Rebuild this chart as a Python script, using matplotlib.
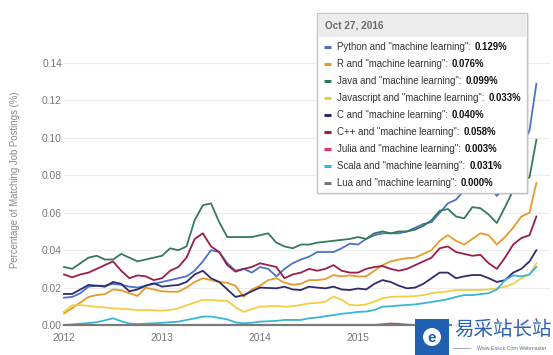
import numpy as np
import matplotlib
matplotlib.use('Agg')
import matplotlib.pyplot as plt
from matplotlib.patches import Rectangle, Ellipse
from matplotlib.lines import Line2D
from matplotlib.ticker import FormatStrFormatter

plt.rcParams['font.family'] = ['Liberation Sans', 'DejaVu Sans']

# Dates: monthly samples Jan 2012 .. Sep 2016, then Oct 27, 2016 (decimal years)
dates = np.append(2012 + np.arange(58) / 12.0, 2016.82)

python = [0.0146, 0.015, 0.017, 0.0205, 0.021, 0.021, 0.022, 0.0215, 0.0205, 0.020,
          0.021, 0.022, 0.023, 0.024, 0.025, 0.026, 0.029, 0.034, 0.040, 0.039,
          0.033, 0.029, 0.030, 0.028, 0.031, 0.030, 0.026, 0.030, 0.033, 0.035,
          0.0365, 0.039, 0.039, 0.039, 0.041, 0.0435, 0.043, 0.046, 0.048, 0.049,
          0.049, 0.049, 0.050, 0.052, 0.054, 0.055, 0.060, 0.065, 0.067, 0.072,
          0.076, 0.078, 0.075, 0.069, 0.074, 0.085, 0.095, 0.104,
          0.129]
r_lang = [0.0062, 0.009, 0.012, 0.015, 0.016, 0.0165, 0.019, 0.0185, 0.017, 0.0155,
          0.020, 0.019, 0.018, 0.0178, 0.0178, 0.020, 0.023, 0.025, 0.024, 0.023,
          0.0225, 0.021, 0.015, 0.019, 0.021, 0.024, 0.025, 0.0226, 0.0215, 0.022,
          0.024, 0.024, 0.0245, 0.0267, 0.026, 0.0265, 0.026, 0.026, 0.029, 0.032,
          0.034, 0.035, 0.0357, 0.036, 0.038, 0.040, 0.045, 0.048, 0.045, 0.043,
          0.046, 0.049, 0.048, 0.043, 0.047, 0.052, 0.058, 0.060,
          0.076]
java = [0.031, 0.030, 0.033, 0.036, 0.037, 0.035, 0.035, 0.038, 0.036, 0.034,
        0.035, 0.036, 0.037, 0.041, 0.040, 0.042, 0.056, 0.064, 0.065, 0.055,
        0.047, 0.047, 0.047, 0.047, 0.048, 0.049, 0.044, 0.042, 0.041, 0.043,
        0.043, 0.044, 0.0445, 0.045, 0.0455, 0.046, 0.047, 0.046, 0.049, 0.050,
        0.049, 0.050, 0.050, 0.051, 0.053, 0.056, 0.061, 0.062, 0.058, 0.057,
        0.063, 0.0624, 0.059, 0.0545, 0.063, 0.072, 0.077, 0.079,
        0.099]
javascript = [0.0071, 0.0105, 0.0107, 0.0102, 0.0097, 0.0094, 0.0089, 0.0087, 0.0084, 0.008,
              0.008, 0.0079, 0.0077, 0.008, 0.0089, 0.0105, 0.012, 0.0134, 0.0134, 0.013,
              0.013, 0.0094, 0.007, 0.0085, 0.0098, 0.010, 0.0102, 0.0098, 0.010, 0.0107,
              0.0116, 0.0118, 0.0125, 0.0152, 0.0135, 0.0107, 0.0105, 0.011, 0.0125, 0.0143,
              0.015, 0.0152, 0.0152, 0.0155, 0.016, 0.017, 0.0175, 0.018, 0.0187, 0.0187,
              0.0187, 0.0187, 0.019, 0.0196, 0.0205, 0.022, 0.025, 0.027,
              0.033]
c_lang = [0.0166, 0.0166, 0.019, 0.0214, 0.021, 0.0205, 0.023, 0.022, 0.018, 0.019,
          0.021, 0.0223, 0.0205, 0.021, 0.0214, 0.023, 0.027, 0.029, 0.025, 0.023,
          0.019, 0.015, 0.016, 0.018, 0.020, 0.0198, 0.0196, 0.0205, 0.019, 0.0187,
          0.0205, 0.020, 0.0196, 0.0205, 0.019, 0.0187, 0.0195, 0.019, 0.022, 0.024,
          0.023, 0.021, 0.0196, 0.020, 0.022, 0.025, 0.028, 0.028, 0.025, 0.026,
          0.0267, 0.0267, 0.025, 0.023, 0.024, 0.028, 0.030, 0.034,
          0.040]
cpp = [0.027, 0.0255, 0.027, 0.028, 0.030, 0.032, 0.034, 0.029, 0.025, 0.0265,
       0.026, 0.024, 0.025, 0.029, 0.031, 0.036, 0.046, 0.049, 0.042, 0.039,
       0.032, 0.0285, 0.030, 0.031, 0.033, 0.032, 0.031, 0.025, 0.027, 0.028,
       0.030, 0.029, 0.030, 0.032, 0.029, 0.028, 0.028, 0.030, 0.031, 0.0315,
       0.030, 0.029, 0.030, 0.032, 0.034, 0.036, 0.041, 0.042, 0.039, 0.038,
       0.037, 0.0375, 0.033, 0.030, 0.036, 0.043, 0.0465, 0.048,
       0.058]
julia = [0.0, 0.0, 0.0, 0.0, 0.0, 0.0, 0.0, 0.0, 0.0, 0.0,
         0.0, 0.0, 0.0, 0.0, 0.0, 0.0, 0.0, 0.0, 0.0, 0.0,
         0.0, 0.0, 0.0, 0.0, 0.0, 0.0, 0.0, 0.0, 0.0, 0.0,
         0.0, 0.0, 0.0, 0.0, 0.0, 0.0, 0.0, 0.0, 0.0, 0.0004,
         0.0008, 0.0006, 0.0002, 0.0, 0.0, 0.0, 0.0, 0.0, 0.0, 0.0,
         0.0, 0.0, 0.0, 0.0, 0.0003, 0.0008, 0.0015, 0.002,
         0.003]
scala = [0.0, 0.0003, 0.0007, 0.001, 0.0015, 0.0025, 0.0036, 0.002, 0.0008, 0.0005,
         0.0007, 0.0009, 0.0012, 0.0015, 0.0018, 0.0027, 0.0035, 0.0045, 0.0045, 0.0038,
         0.003, 0.0014, 0.0009, 0.0012, 0.0018, 0.002, 0.0022, 0.0027, 0.0027, 0.0027,
         0.0036, 0.004, 0.0047, 0.0053, 0.006, 0.0064, 0.007, 0.0072, 0.008, 0.0098,
         0.010, 0.0104, 0.0107, 0.011, 0.0116, 0.0123, 0.013, 0.0138, 0.015, 0.016,
         0.016, 0.0165, 0.017, 0.019, 0.024, 0.0265, 0.026, 0.027,
         0.031]
lua = [0.0, 0.0, 0.0, 0.0, 0.0, 0.0, 0.0, 0.0, 0.0, 0.0,
       0.0, 0.0, 0.0, 0.0, 0.0, 0.0, 0.0, 0.0, 0.0, 0.0,
       0.0, 0.0, 0.0, 0.0, 0.0, 0.0, 0.0, 0.0, 0.0, 0.0,
       0.0, 0.0, 0.0, 0.0, 0.0, 0.0, 0.0, 0.0, 0.0, 0.0,
       0.0, 0.0, 0.0, 0.0, 0.0, 0.0, 0.0, 0.0, 0.0, 0.0,
       0.0, 0.0, 0.0, 0.0, 0.0, 0.0, 0.0, 0.0,
       0.0]

names = ['Python', 'R', 'Java', 'Javascript', 'C', 'C++', 'Julia', 'Scala', 'Lua']
series = [python, r_lang, java, javascript, c_lang, cpp, julia, scala, lua]
colors = ['#4b73c8', '#e69a2b', '#357a58', '#f3cd44', '#302b6b', '#9a1d4a',
          '#e2356c', '#38b5d9', '#7a7a7a']

y_ticks = [0.0, 0.02, 0.04, 0.06, 0.08, 0.10, 0.12, 0.14]
x_ticks = [2012, 2013, 2014, 2015]
x_labels = ['2012', '2013', '2014', '2015']
tooltip_date = 'Oct 27, 2016'
y_title = 'Percentage of Matching Job Postings (%)'

W, H = 553, 355
fig = plt.figure(figsize=(W / 100, H / 100), dpi=100)
fig.patch.set_facecolor('white')
ax = fig.add_axes([64 / W, (H - 325) / H, (550 - 64) / W, (325 - 35) / H])

for vals, col in zip(series, colors):
    lw = 1.6 if col == '#7a7a7a' else 1.3
    ax.plot(dates, vals, color=col, lw=lw, clip_on=False, solid_joinstyle='round')

ax.set_xlim(2012, 2016.959)
ax.set_ylim(0, 0.155)
ax.set_yticks(y_ticks)
ax.yaxis.set_major_formatter(FormatStrFormatter('%.2f'))
ax.set_xticks(x_ticks)
ax.set_xticklabels(x_labels)
ax.yaxis.grid(True, color='#ececec', lw=0.8)
ax.set_axisbelow(True)
for s in ax.spines.values():
    s.set_visible(False)
ax.tick_params(axis='both', length=0, labelsize=7.4, colors='#777777')
ax.tick_params(axis='y', pad=1.5)
ax.tick_params(axis='x', pad=6)
ax.set_ylabel(y_title, fontsize=6.9, color='#888888')
ax.yaxis.set_label_coords(-0.091, 0.5)


def fx(x):
    return x / W


def fy(y):
    return 1 - y / H


# Tooltip box
fig.patches.append(Rectangle((fx(319), fy(195)), (527 - 317) / W, (193 - 13) / H,
                             transform=fig.transFigure, facecolor='#000000', alpha=0.07,
                             edgecolor='none', zorder=9))
fig.patches.append(Rectangle((fx(317), fy(193)), (527 - 317) / W, (193 - 13) / H,
                             transform=fig.transFigure, facecolor='white',
                             edgecolor='#c4c4c4', lw=1.0, zorder=10))
fig.patches.append(Rectangle((fx(318), fy(37)), (526 - 318) / W, (37 - 14) / H,
                             transform=fig.transFigure, facecolor='#ececec',
                             edgecolor='none', zorder=11))
fig.text(fx(325), fy(26), tooltip_date, fontsize=7.2, fontweight='bold',
         color='#6a6a6a', va='center', ha='left', zorder=12)

renderer = fig.canvas.get_renderer()
for i, (name, col, vals) in enumerate(zip(names, colors, series)):
    y = 47 + i * 17.0
    fig.lines.append(Line2D([fx(324), fx(331)], [fy(y), fy(y)], transform=fig.transFigure,
                            color=col, lw=2.2, zorder=12, solid_capstyle='butt'))
    t = fig.text(fx(337), fy(y), f'{name} and "machine learning":', fontsize=6.9,
                 color='#333333', va='center', ha='left', zorder=12)
    bb = t.get_window_extent(renderer)
    fig.text((bb.x1 + 4) / fig.bbox.width, fy(y), f'{vals[-1]:.3f}%', fontsize=6.9,
             fontweight='bold', color='#111111', va='center', ha='left', zorder=12)

# Watermark
fig.patches.append(Rectangle((fx(452), fy(355)), (553 - 452) / W, (355 - 319) / H,
                             transform=fig.transFigure, facecolor='white', alpha=0.9,
                             edgecolor='none', zorder=13))
fig.patches.append(Rectangle((fx(415), fy(355)), (449 - 415) / W, (355 - 319) / H,
                             transform=fig.transFigure, facecolor='#1f5fae',
                             edgecolor='none', zorder=14))
fig.patches.append(Ellipse((fx(432), fy(337)), 18 / W, 18 / H, transform=fig.transFigure,
                           facecolor='white', edgecolor='none', zorder=15))
fig.text(fx(432), fy(337.5), 'e', fontsize=11, fontweight='bold', color='#1f5fae',
         ha='center', va='center', zorder=16)
fig.text(fx(503), fy(329), '易采站长站', family=['Noto Sans CJK SC', 'DejaVu Sans'],
         fontsize=14, color='#2d63b0', ha='center', va='center', zorder=16)
fig.lines.append(Line2D([fx(453), fx(470)], [fy(348), fy(348)], transform=fig.transFigure,
                        color='#8a9ab5', lw=0.6, zorder=16))
fig.text(fx(512), fy(348), 'Www.Easck.Com Webmaster', fontsize=3.8, color='#5c6f8e',
         ha='center', va='center', zorder=16)

fig.savefig('out.png', dpi=100)
